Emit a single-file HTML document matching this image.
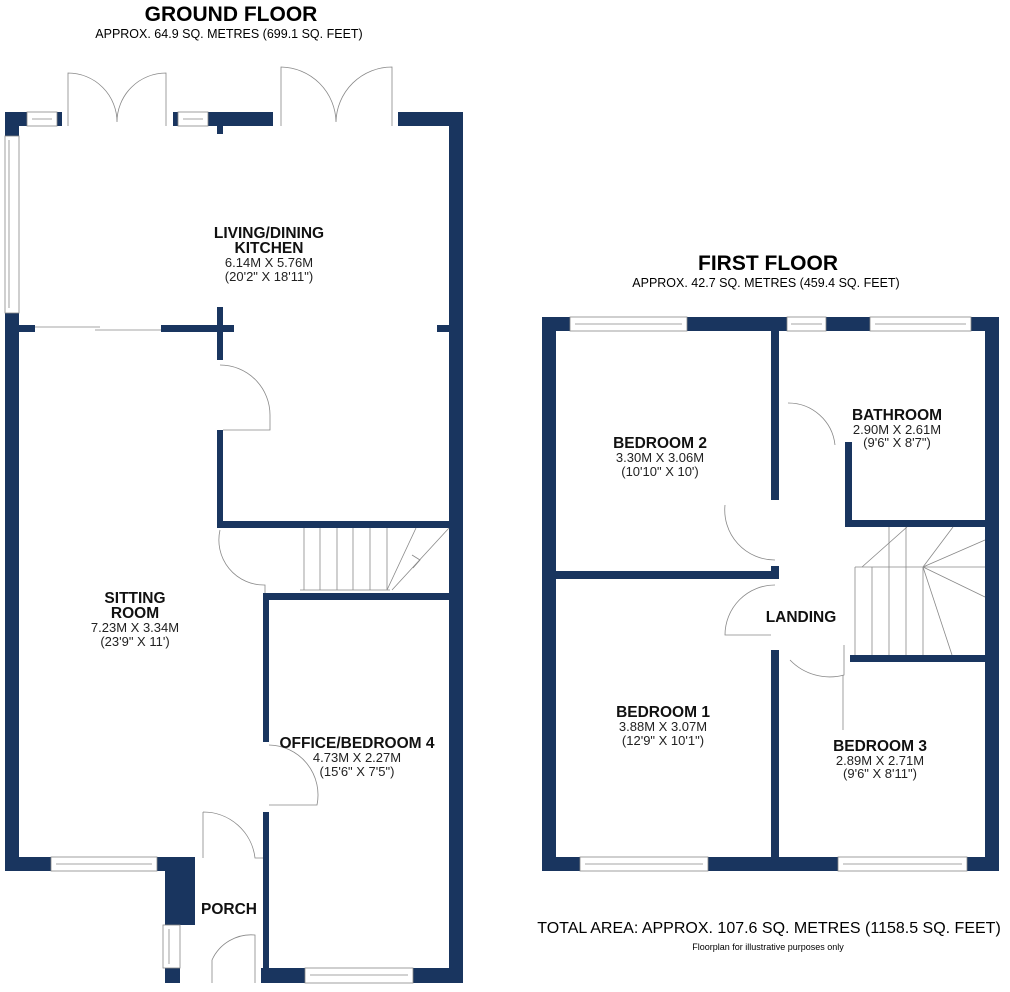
<!DOCTYPE html>
<html><head><meta charset="utf-8"><style>
body{margin:0;background:#fff;}
svg{display:block;font-family:"Liberation Sans",Arial,sans-serif;}
.w{fill:#19355f;}
.t{fill:none;stroke:#888;stroke-width:0.8;}
.b{font-weight:bold;font-size:15.5px;text-anchor:middle;fill:#111;}
.d{font-size:13px;text-anchor:middle;fill:#222;}
</style></head><body>
<svg width="1010" height="992" viewBox="0 0 1010 992" xmlns="http://www.w3.org/2000/svg">
<text x="231" y="21" style="font-weight:bold;font-size:21px;text-anchor:middle">GROUND FLOOR</text>
<text x="229" y="38" style="font-size:12.5px;text-anchor:middle">APPROX. 64.9 SQ. METRES (699.1 SQ. FEET)</text>
<text x="768" y="270" style="font-weight:bold;font-size:21px;text-anchor:middle">FIRST FLOOR</text>
<text x="766" y="287" style="font-size:12.5px;text-anchor:middle">APPROX. 42.7 SQ. METRES (459.4 SQ. FEET)</text>
<text x="769" y="933" style="font-size:16px;text-anchor:middle">TOTAL AREA: APPROX. 107.6 SQ. METRES (1158.5 SQ. FEET)</text>
<text x="768" y="950" style="font-size:9px;text-anchor:middle">Floorplan for illustrative purposes only</text>

<!-- GROUND FLOOR walls -->
<rect class="w" x="5" y="112" width="22" height="14"/>
<rect class="w" x="5" y="112" width="14" height="24"/>
<rect class="w" x="57" y="112" width="5" height="14"/>
<rect class="w" x="173" y="112" width="5" height="14"/>
<rect class="w" x="208" y="112" width="65" height="14"/>
<rect class="w" x="217" y="112" width="6" height="22"/>
<rect class="w" x="398" y="112" width="65" height="14"/>
<rect class="w" x="449" y="112" width="14" height="868"/>
<rect class="w" x="5" y="313" width="14" height="558"/>
<rect class="w" x="5" y="325" width="30" height="7"/>
<rect class="w" x="161" y="325" width="73" height="7"/>
<rect class="w" x="217" y="307" width="6" height="53"/>
<rect class="w" x="437" y="325" width="12" height="7"/>
<rect class="w" x="217" y="430" width="6" height="98"/>
<rect class="w" x="217" y="521" width="232" height="7"/>
<rect class="w" x="263" y="593" width="186" height="7"/>
<rect class="w" x="263" y="593" width="6" height="149"/>
<rect class="w" x="263" y="812" width="6" height="171"/>
<rect class="w" x="5" y="857" width="46" height="14"/>
<rect class="w" x="157" y="857" width="38" height="14"/>
<rect class="w" x="165" y="857" width="30" height="68"/>
<rect class="w" x="165" y="968" width="15" height="15"/>
<rect class="w" x="261" y="968" width="44" height="15"/>
<rect class="w" x="413" y="968" width="50" height="15"/>
<!-- windows ground -->
<rect class="t" x="27" y="112" width="30" height="14"/><line class="t" x1="32" y1="119" x2="52" y2="119"/>
<rect class="t" x="178" y="112" width="30" height="14"/><line class="t" x1="183" y1="119" x2="203" y2="119"/>
<rect class="t" x="5" y="136" width="14" height="177"/><line class="t" x1="9" y1="140" x2="9" y2="308"/>
<rect class="t" x="51" y="857" width="106" height="14"/><line class="t" x1="56" y1="864" x2="152" y2="864"/>
<rect class="t" x="305" y="968" width="108" height="15"/><line class="t" x1="310" y1="975" x2="408" y2="975"/>
<rect class="t" x="163" y="925" width="17" height="43"/><line class="t" x1="169" y1="929" x2="169" y2="964"/>
<line class="t" x1="35" y1="327" x2="100" y2="327"/><line class="t" x1="95" y1="330" x2="161" y2="330"/>
<!-- doors ground -->
<path class="t" d="M68 126 V73 A49 49 0 0 1 117 122 M166 126 V73 A49 49 0 0 0 117 122"/>
<path class="t" d="M281 126 V67 A56 56 0 0 1 336 122 M392 126 V67 A56 56 0 0 0 336 122"/>
<path class="t" d="M220 365 A50 50 0 0 1 270 415 V430 H223"/>
<path class="t" d="M220 530 A45 45 0 0 0 265 585 V593"/>
<path class="t" d="M269 745 A50 50 0 0 1 317 805 H269"/>
<path class="t" d="M203 812 A52 52 0 0 1 255 858 H263 M203 812 V858"/>
<path class="t" d="M212 983 V960 A43 43 0 0 1 255 935 V983"/>
<!-- stairs ground -->
<g class="t"><line x1="304" y1="528" x2="304" y2="590"/><line x1="320" y1="528" x2="320" y2="590"/><line x1="337" y1="528" x2="337" y2="590"/><line x1="353" y1="528" x2="353" y2="590"/><line x1="370" y1="528" x2="370" y2="590"/><line x1="387" y1="528" x2="387" y2="590"/><line x1="416" y1="528" x2="387" y2="590"/><line x1="449" y1="528" x2="392" y2="590"/><line x1="300" y1="590" x2="390" y2="590"/><path d="M412 555 L420 560 L413 568"/></g>

<!-- FIRST FLOOR walls -->
<rect class="w" x="542" y="317" width="28" height="14"/>
<rect class="w" x="542" y="317" width="14" height="554"/>
<rect class="w" x="687" y="317" width="100" height="14"/>
<rect class="w" x="826" y="317" width="44" height="14"/>
<rect class="w" x="971" y="317" width="28" height="14"/>
<rect class="w" x="985" y="317" width="14" height="554"/>
<rect class="w" x="771" y="331" width="8" height="169"/>
<rect class="w" x="556" y="571" width="223" height="8"/>
<rect class="w" x="771" y="566" width="8" height="13"/>
<rect class="w" x="771" y="650" width="8" height="210"/>
<rect class="w" x="845" y="442" width="7" height="85"/>
<rect class="w" x="845" y="520" width="140" height="7"/>
<rect class="w" x="850" y="655" width="135" height="7"/>
<rect class="w" x="542" y="857" width="38" height="14"/>
<rect class="w" x="708" y="857" width="130" height="14"/>
<rect class="w" x="967" y="857" width="32" height="14"/>
<!-- windows first -->
<rect class="t" x="570" y="317" width="117" height="14"/><line class="t" x1="575" y1="324" x2="682" y2="324"/>
<rect class="t" x="787" y="317" width="39" height="14"/><line class="t" x1="791" y1="324" x2="822" y2="324"/>
<rect class="t" x="870" y="317" width="101" height="14"/><line class="t" x1="875" y1="324" x2="966" y2="324"/>
<rect class="t" x="580" y="857" width="128" height="14"/><line class="t" x1="585" y1="864" x2="703" y2="864"/>
<rect class="t" x="838" y="857" width="129" height="14"/><line class="t" x1="843" y1="864" x2="962" y2="864"/>
<!-- doors first -->
<path class="t" d="M725 505 A50 50 0 0 0 775 560"/>
<path class="t" d="M788 403 A47 47 0 0 1 835 445"/>
<path class="t" d="M775 585 A50 50 0 0 0 725 635 H771"/>
<path class="t" d="M790 660 A55 55 0 0 0 844 675 V645"/>
<path class="t" d="M843 675 V730"/>
<!-- stairs first -->
<g class="t"><line x1="855" y1="567" x2="985" y2="567"/><line x1="855" y1="567" x2="855" y2="655"/><line x1="872" y1="567" x2="872" y2="655"/><line x1="889" y1="567" x2="889" y2="655"/><line x1="906" y1="567" x2="906" y2="655"/><line x1="923" y1="567" x2="923" y2="655"/><line x1="923" y1="567" x2="952" y2="655"/><line x1="923" y1="567" x2="985" y2="597"/><line x1="923" y1="567" x2="985" y2="540"/><line x1="923" y1="567" x2="953" y2="527"/><line x1="906" y1="567" x2="906" y2="527"/><line x1="889" y1="567" x2="889" y2="527"/><line x1="862" y1="567" x2="907" y2="527"/></g>

<!-- labels -->
<text class="b" x="269" y="238">LIVING/DINING</text>
<text class="b" x="269" y="253">KITCHEN</text>
<text class="d" x="269" y="267">6.14M X 5.76M</text>
<text class="d" x="269" y="281">(20'2" X 18'11")</text>
<text class="b" x="135" y="603">SITTING</text>
<text class="b" x="135" y="618">ROOM</text>
<text class="d" x="135" y="632">7.23M X 3.34M</text>
<text class="d" x="135" y="646">(23'9" X 11')</text>
<text class="b" x="357" y="748">OFFICE/BEDROOM 4</text>
<text class="d" x="357" y="762">4.73M X 2.27M</text>
<text class="d" x="357" y="776">(15'6" X 7'5")</text>
<text class="b" x="229" y="914">PORCH</text>
<text class="b" x="660" y="448">BEDROOM 2</text>
<text class="d" x="660" y="462">3.30M X 3.06M</text>
<text class="d" x="660" y="476">(10'10" X 10')</text>
<text class="b" x="897" y="420">BATHROOM</text>
<text class="d" x="897" y="434">2.90M X 2.61M</text>
<text class="d" x="897" y="447">(9'6" X 8'7")</text>
<text class="b" x="801" y="622">LANDING</text>
<text class="b" x="663" y="717">BEDROOM 1</text>
<text class="d" x="663" y="731">3.88M X 3.07M</text>
<text class="d" x="663" y="745">(12'9" X 10'1")</text>
<text class="b" x="880" y="751">BEDROOM 3</text>
<text class="d" x="880" y="765">2.89M X 2.71M</text>
<text class="d" x="880" y="778">(9'6" X 8'11")</text>
</svg>
</body></html>
